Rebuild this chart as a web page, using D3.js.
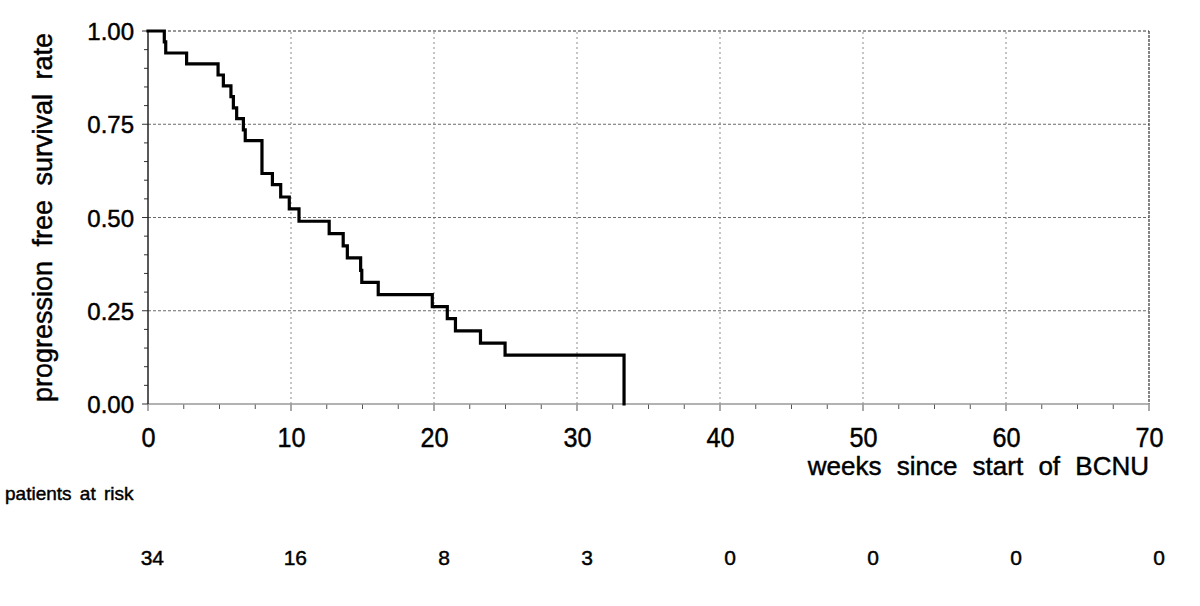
<!DOCTYPE html>
<html>
<head>
<meta charset="utf-8">
<script src="https://cdn.jsdelivr.net/npm/d3@7"></script>
<style>
  html, body { margin: 0; padding: 0; background: #fff; }
  svg { display: block; font-family: "Liberation Sans", Arial, sans-serif; }
  svg text { stroke: #000; stroke-width: 0.45px; fill: #000; }
</style>
</head>
<body>
<svg id="chart" width="1200" height="606"></svg>
<script>
// Kaplan-Meier step data (weeks, survival)
const times = [0, 1.14, 1.24, 2.7, 4.9, 5.27, 5.8, 5.97, 6.2, 6.67, 6.8, 7.97, 8.7, 9.28, 9.88, 10.56, 12.67, 13.65, 13.94, 14.87, 14.95, 16.1, 19.88, 20.93, 21.5, 23.25, 24.97, 33.29];
const survival = [1.0, 0.971, 0.941, 0.912, 0.882, 0.853, 0.824, 0.794, 0.765, 0.735, 0.706, 0.618, 0.588, 0.555, 0.523, 0.490, 0.457, 0.424, 0.392, 0.358, 0.326, 0.293, 0.261, 0.229, 0.196, 0.163, 0.131, 0.0];
const xTicks = [0, 10, 20, 30, 40, 50, 60, 70];
const yTicks = [0, 0.25, 0.5, 0.75, 1.0];
const riskTimes = [0, 10, 20, 30, 40, 50, 60, 70];
const atRisk = [34, 16, 8, 3, 0, 0, 0, 0];

const svg = d3.select("#chart");
const x = d3.scaleLinear().domain([0, 70]).range([148, 1149]);
const y = d3.scaleLinear().domain([0, 1]).range([404, 31]);

// grid
const grid = svg.append("g");
grid.selectAll("line.vg").data(xTicks.filter(d => d > 0 && d < 70)).enter().append("line")
  .attr("x1", d => x(d)).attr("x2", d => x(d)).attr("y1", y(0)).attr("y2", y(1))
  .attr("stroke", "#8a8a8a").attr("stroke-width", 1).attr("stroke-dasharray", "2,3");
grid.selectAll("line.hg").data(yTicks.filter(d => d > 0 && d < 1)).enter().append("line")
  .attr("x1", x(0)).attr("x2", x(70)).attr("y1", d => y(d)).attr("y2", d => y(d))
  .attr("stroke", "#6a6a6a").attr("stroke-width", 1).attr("stroke-dasharray", "3,2");
// top and right frame (dashed)
grid.append("line").attr("x1", x(0)).attr("x2", x(70)).attr("y1", y(1)).attr("y2", y(1))
  .attr("stroke", "#333").attr("stroke-width", 1.2).attr("stroke-dasharray", "3,2");
grid.append("line").attr("x1", x(70)).attr("x2", x(70)).attr("y1", y(1)).attr("y2", y(0))
  .attr("stroke", "#333").attr("stroke-width", 1.2).attr("stroke-dasharray", "3,1");

// x axis
const xAxisG = svg.append("g").attr("transform", `translate(0,${y(0)})`);
const xMinor = d3.range(0, 70.01, 2.5);
xAxisG.selectAll("line.tk").data(xMinor).enter().append("line")
  .attr("x1", d => x(d)).attr("x2", d => x(d)).attr("y1", 0)
  .attr("y2", d => (d % 10 === 0) ? 7 : 5)
  .attr("stroke", "#555").attr("stroke-width", 1);
xAxisG.append("line").attr("x1", x(0)).attr("x2", x(70)).attr("y1", 0).attr("y2", 0)
  .attr("stroke", "#999").attr("stroke-width", 1.5);
const xAxis = d3.axisBottom(x).tickValues(xTicks).tickSize(0).tickPadding(0).tickFormat(d3.format("d"));
const xa = svg.append("g").attr("transform", `translate(0,${y(0)})`).call(xAxis);
xa.select(".domain").remove();
xa.selectAll("text").attr("dy", null).attr("y", 43).attr("font-size", 28)
  .attr("font-family", "Liberation Sans, Arial, sans-serif").attr("fill", "#000")
  .attr("transform", "scale(0.9,1)");

// y axis
const yAxisG = svg.append("g").attr("transform", `translate(${x(0)},0)`);
const yMinor = d3.range(0, 1.0001, 0.05);
yAxisG.selectAll("line.tk").data(yMinor).enter().append("line")
  .attr("y1", d => y(d)).attr("y2", d => y(d)).attr("x1", 0)
  .attr("x2", (d, i) => (i % 5 === 0) ? -6 : -4)
  .attr("stroke", "#333").attr("stroke-width", 1);
yAxisG.append("line").attr("x1", 0).attr("x2", 0).attr("y1", y(0)).attr("y2", y(1))
  .attr("stroke", "#222").attr("stroke-width", 1.5);
const yAxis = d3.axisLeft(y).tickValues(yTicks).tickSize(0).tickPadding(14).tickFormat(d3.format(".2f"));
const ya = svg.append("g").attr("transform", `translate(${x(0)},0)`).call(yAxis);
ya.select(".domain").remove();
ya.selectAll("text").attr("font-size", 24).attr("dy", "0.36em")
  .attr("font-family", "Liberation Sans, Arial, sans-serif").attr("fill", "#000");

// KM step curve
const pts = times.map((t, i) => [t, survival[i]]);
const line = d3.line().x(d => x(d[0])).y(d => y(d[1])).curve(d3.curveStepAfter);
svg.append("path").datum(pts).attr("d", line)
  .attr("fill", "none").attr("stroke", "#000").attr("stroke-width", 3.2)
  .attr("stroke-linejoin", "miter").attr("stroke-linecap", "square");

// axis titles
svg.append("text").attr("transform", `translate(52,${(y(0) + y(1)) / 2}) rotate(-90)`)
  .attr("text-anchor", "middle").attr("font-size", 27).attr("word-spacing", 7)
  .text("progression free survival rate");
svg.append("text").attr("x", x(70)).attr("y", 475).attr("text-anchor", "end")
  .attr("font-size", 26).attr("word-spacing", 8)
  .text("weeks since start of BCNU");

// patients at risk
svg.append("text").attr("x", 5).attr("y", 500).attr("font-size", 19).attr("word-spacing", 3)
  .text("patients at risk");
svg.append("g").selectAll("text").data(riskTimes).enter().append("text")
  .attr("x", d => x(d) + 16).attr("y", 565).attr("text-anchor", "end")
  .attr("font-size", 21)
  .text((d, i) => atRisk[i]);
</script>
</body>
</html>
